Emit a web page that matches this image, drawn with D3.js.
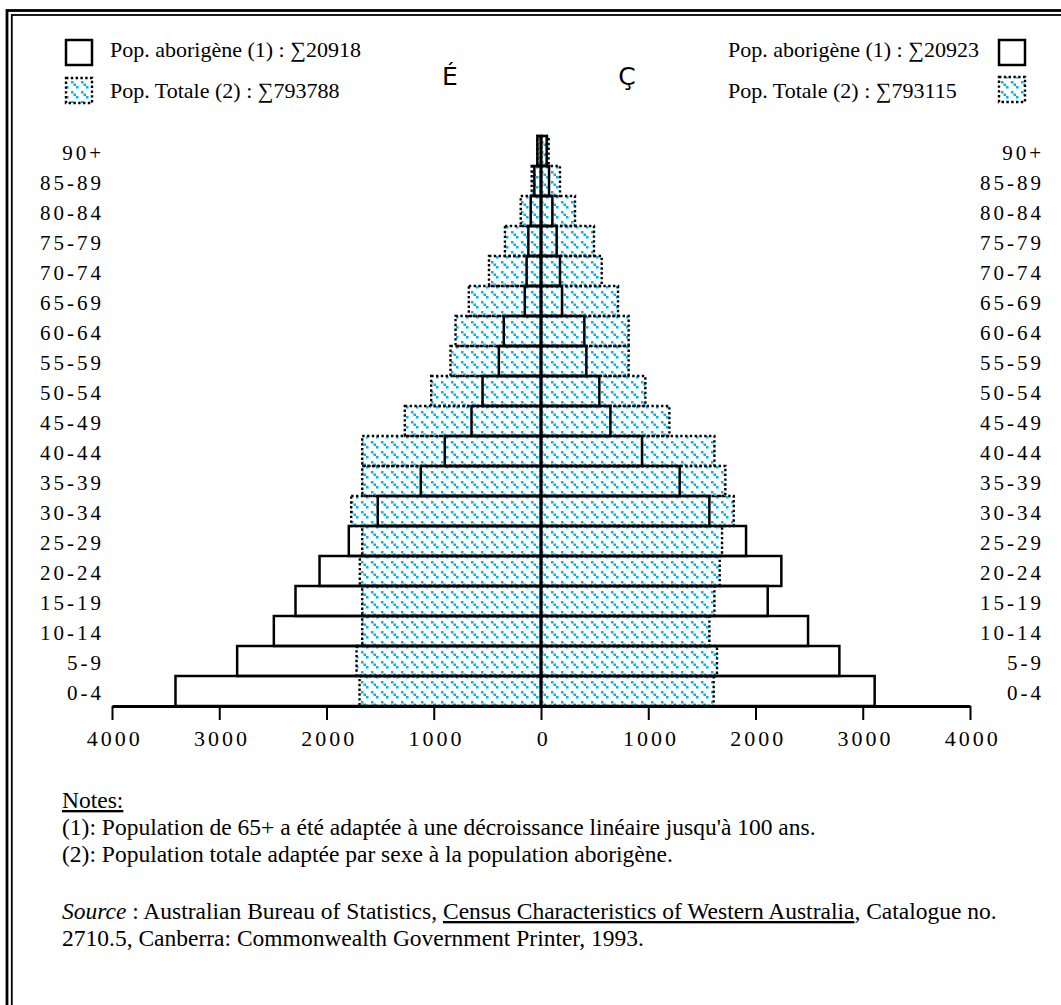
<!DOCTYPE html>
<html>
<head>
<meta charset="utf-8">
<script src="https://cdn.jsdelivr.net/npm/d3@7"></script>
<style>
  body { margin: 0; background: #fff; }
  svg text { font-family: "Liberation Serif", "Times New Roman", serif; fill: #000; }
  .age { font-size: 21px; letter-spacing: 3px; }
  .axis text { font-size: 22px; letter-spacing: 3px; }
  .leg { font-size: 22px; }
  .note { font-size: 23.5px; }
  .sym { font-family: "DejaVu Sans", sans-serif; font-size: 25px; }
</style>
</head>
<body>
<div id="chart"></div>
<script>
// age groups, bottom to top
var ages = ["0-4", "5-9", "10-14", "15-19", "20-24", "25-29", "30-34", "35-39", "40-44",
  "45-49", "50-54", "55-59", "60-64", "65-69", "70-74", "75-79", "80-84", "85-89", "90+"];

// aboriginal population (solid bars)
var aboLeft  = [3408, 2833, 2491, 2289, 2065, 1792, 1522, 1121, 897, 648, 545, 393, 347, 151, 134, 118, 96, 62, 34];
var aboRight = [3111, 2782, 2490, 2114, 2241, 1912, 1570, 1293, 942, 647, 544, 423, 404, 196, 177, 146, 106, 75, 53];

// total population adjusted (patterned bars)
var totLeft  = [1692, 1720, 1667, 1667, 1689, 1667, 1770, 1667, 1667, 1270, 1024, 844, 797, 673, 485, 336, 189, 87, 34];
var totRight = [1610, 1641, 1570, 1617, 1666, 1688, 1797, 1719, 1617, 1197, 973, 817, 817, 718, 566, 494, 317, 177, 71];

var xTicks = [-4000, -3000, -2000, -1000, 0, 1000, 2000, 3000, 4000];

var legLeft  = ["Pop. aborigène (1) : \u221120918", "Pop. Totale (2) : \u2211793788"];
var legRight = ["Pop. aborigène (1) : \u221120923", "Pop. Totale (2) : \u2211793115"];

var width = 1061, height = 1005;

var svg = d3.select("#chart").append("svg")
    .attr("width", width)
    .attr("height", height);

// pattern for total population
var defs = svg.append("defs");
var pat = defs.append("pattern")
    .attr("id", "dash")
    .attr("patternUnits", "userSpaceOnUse")
    .attr("width", 10)
    .attr("height", 10);
[0, 2.5, 5].forEach(function(k) {
  pat.append("rect")
    .attr("x", k + 1).attr("y", k + 1)
    .attr("width", 2.5).attr("height", 2.5)
    .attr("fill", "#00b4ef");
});

// double frame
svg.append("rect")
    .attr("x", 7).attr("y", 10.5)
    .attr("width", 1100).attr("height", 1100)
    .attr("fill", "none").attr("stroke", "#000").attr("stroke-width", 2.8);
svg.append("rect")
    .attr("x", 11.8).attr("y", 15)
    .attr("width", 1100).attr("height", 1100)
    .attr("fill", "none").attr("stroke", "#000").attr("stroke-width", 1.8);

var x = d3.scaleLinear()
    .domain([-4000, 4000])
    .range([112, 970]);

var y = d3.scaleBand()
    .domain(ages.slice().reverse())
    .range([136, 706])
    .padding(0);

var rows = ages.map(function(a, i) {
  return {age: a, aboL: aboLeft[i], aboR: aboRight[i], totL: totLeft[i], totR: totRight[i]};
});

// total population bars (dotted outline, pattern)
var gTot = svg.append("g");
gTot.selectAll(".totL").data(rows).enter().append("rect")
    .attr("x", function(d) { return x(-d.totL); })
    .attr("y", function(d) { return y(d.age); })
    .attr("width", function(d) { return x(0) - x(-d.totL); })
    .attr("height", y.bandwidth());
gTot.selectAll(".totR").data(rows).enter().append("rect")
    .attr("x", x(0))
    .attr("y", function(d) { return y(d.age); })
    .attr("width", function(d) { return x(d.totR) - x(0); })
    .attr("height", y.bandwidth());
gTot.selectAll("rect")
    .attr("fill", "url(#dash)")
    .attr("stroke", "#000")
    .attr("stroke-width", 2.4)
    .attr("stroke-dasharray", "2.4,2.4");

// aboriginal bars (solid outline)
var gAbo = svg.append("g");
gAbo.selectAll(".aboL").data(rows).enter().append("rect")
    .attr("x", function(d) { return x(-d.aboL); })
    .attr("y", function(d) { return y(d.age); })
    .attr("width", function(d) { return x(0) - x(-d.aboL); })
    .attr("height", y.bandwidth());
gAbo.selectAll(".aboR").data(rows).enter().append("rect")
    .attr("x", x(0))
    .attr("y", function(d) { return y(d.age); })
    .attr("width", function(d) { return x(d.aboR) - x(0); })
    .attr("height", y.bandwidth());
gAbo.selectAll("rect")
    .attr("fill", "none")
    .attr("stroke", "#000")
    .attr("stroke-width", 2.5);

// center line
svg.append("line")
    .attr("x1", x(0)).attr("x2", x(0))
    .attr("y1", 136).attr("y2", 706)
    .attr("stroke", "#000").attr("stroke-width", 2.5);

// age labels both sides
svg.selectAll(".ageL").data(ages).enter().append("text")
    .attr("class", "age")
    .attr("x", 104)
    .attr("y", function(d) { return y(d) + y.bandwidth() / 2 + 9; })
    .attr("text-anchor", "end")
    .text(function(d) { return d; });
svg.selectAll(".ageR").data(ages).enter().append("text")
    .attr("class", "age")
    .attr("x", 1044)
    .attr("y", function(d) { return y(d) + y.bandwidth() / 2 + 9; })
    .attr("text-anchor", "end")
    .text(function(d) { return d; });

// x axis
var axis = svg.append("g")
    .attr("class", "axis")
    .attr("transform", "translate(0,706)")
    .call(d3.axisBottom(x)
      .tickValues(xTicks)
      .tickSize(14)
      .tickSizeOuter(0)
      .tickPadding(10)
      .tickFormat(function(d) { return Math.abs(d); }));
axis.select(".domain").attr("stroke-width", 2.8);
axis.selectAll(".tick line").attr("stroke-width", 2);
axis.selectAll(".tick text").attr("dx", "0.1em");

// legends
function legendBox(g, bx, by, patterned) {
  g.append("rect")
    .attr("x", bx).attr("y", by)
    .attr("width", 26).attr("height", 25)
    .attr("fill", patterned ? "url(#dash)" : "none")
    .attr("stroke", "#000")
    .attr("stroke-width", patterned ? 2.4 : 2.5)
    .attr("stroke-dasharray", patterned ? "2.4,2.4" : null);
}
var gLeg = svg.append("g");
legendBox(gLeg, 66, 40, false);
legendBox(gLeg, 66, 78, true);
gLeg.selectAll(".ll").data(legLeft).enter().append("text")
    .attr("class", "leg")
    .attr("x", 110)
    .attr("y", function(d, i) { return 57 + i * 41; })
    .text(function(d) { return d; });
legendBox(gLeg, 999, 40, false);
legendBox(gLeg, 999, 77, true);
gLeg.selectAll(".lr").data(legRight).enter().append("text")
    .attr("class", "leg")
    .attr("x", 728)
    .attr("y", function(d, i) { return 57 + i * 41; })
    .text(function(d) { return d; });

// sex symbols
svg.append("text").attr("class", "sym").attr("x", 450).attr("y", 85)
    .attr("text-anchor", "middle").text("É");
svg.append("text").attr("class", "sym").attr("x", 627).attr("y", 85)
    .attr("text-anchor", "middle").text("Ç");

// notes
var notes = svg.append("g").attr("class", "note");
notes.append("text").attr("x", 62).attr("y", 808)
    .attr("text-decoration", "underline").text("Notes:");
notes.append("text").attr("x", 62).attr("y", 835)
    .text("(1): Population de 65+ a été adaptée à une décroissance linéaire jusqu'à 100 ans.");
notes.append("text").attr("x", 62).attr("y", 862)
    .text("(2): Population totale adaptée par sexe à la population aborigène.");
var src = notes.append("text").attr("x", 62).attr("y", 919);
src.append("tspan").attr("font-style", "italic").text("Source");
src.append("tspan").text(" : Australian Bureau of Statistics, ");
src.append("tspan").attr("text-decoration", "underline").text("Census Characteristics of Western Australia");
src.append("tspan").text(", Catalogue no.");
notes.append("text").attr("x", 62).attr("y", 946)
    .text("2710.5, Canberra: Commonwealth Government Printer, 1993.");
</script>
</body>
</html>
